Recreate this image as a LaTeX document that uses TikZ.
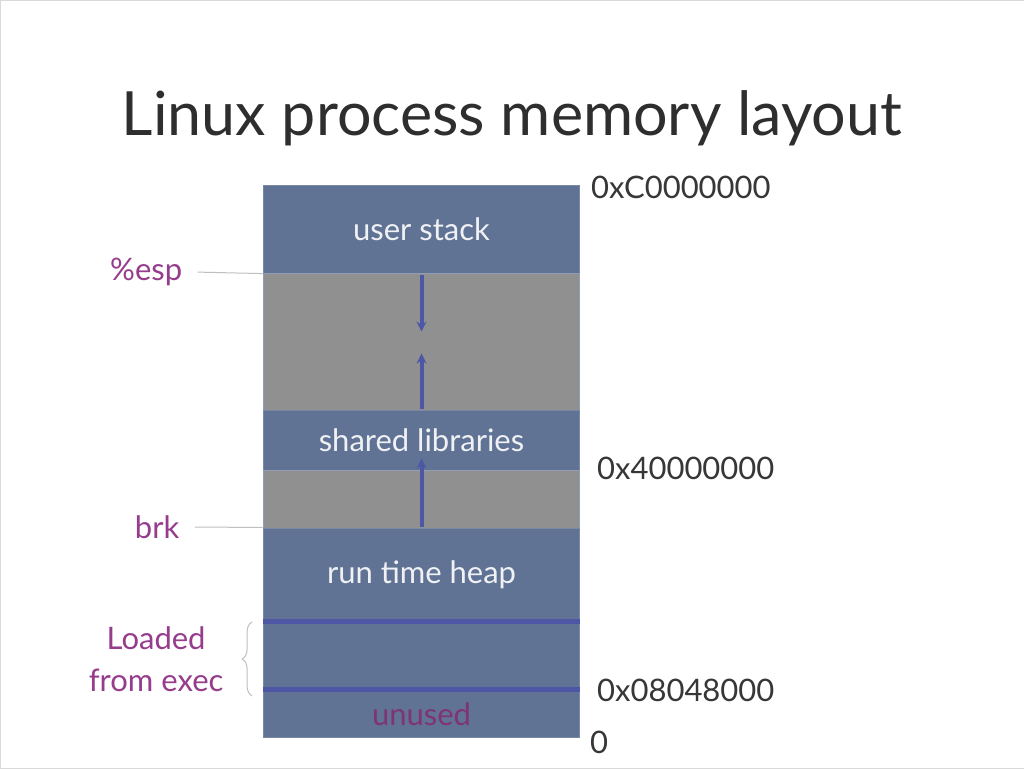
\documentclass[tikz,border=0pt]{standalone}
\usepackage{fontspec}
\setmainfont{Lato}
\usepackage{xcolor}
\definecolor{segblue}{RGB}{96,115,149}
\definecolor{seggray}{RGB}{144,144,144}
\definecolor{segline}{RGB}{78,86,166}
\definecolor{labpurple}{RGB}{150,60,140}
\definecolor{addrgray}{RGB}{55,55,55}
\usepackage{tikz}
\usetikzlibrary{arrows.meta,positioning,calc,decorations.pathreplacing}
\tikzset{
  seg_used/.style={rectangle,
    draw=segblue!85!white,fill=segblue,line width=1pt,
    minimum width=317pt,inner sep=0pt,
    text=white!90!segblue,
    font=\fontsize{31}{36}\selectfont},
  seg_free/.style={rectangle,
    draw=segblue!70!white,fill=seggray,line width=1pt,
    minimum width=317pt,inner sep=0pt},
  sidelab/.style={text=labpurple,align=center,
    font=\fontsize{31}{42}\selectfont},
  addr/.style={anchor=west,text=addrgray,inner sep=0pt,
    font=\fontsize{31}{36}\selectfont},
  divider/.style={draw=segline,line width=5pt},
  grow_arr/.style={-{Stealth[length=10pt,width=10pt]},draw=segline,line width=4pt},
  lead_line/.style={draw=black!25,line width=1pt},
}

\begin{document}
\begin{tikzpicture}[x=1pt,y=-1pt]
  \useasboundingbox[fill=white,draw=black!15] (0,0) rectangle (1024,768);
  % title
  \node (title) [text=black!82,font=\fontsize{61}{66}\selectfont]
    at (512,118) {Linux process memory layout};
  % memory column, top to bottom
  \node (stack)  [seg_used,minimum height=88pt]  at (421.5,229)   {user stack};
  \node (gapa)   [seg_free,minimum height=137pt] at (421.5,341.5) {};
  \node (shlib)  [seg_used,minimum height=60pt]  at (421.5,440)   {shared libraries};
  \node (gapb)   [seg_free,minimum height=58pt]  at (421.5,499)   {};
  \node (heap)   [seg_used,minimum height=94pt]  at (421.5,575)   {run time heap};
  \node (loaded) [seg_used,minimum height=68pt]  at (421.5,656)   {};
  \node (unused) [seg_used,minimum height=48pt,text=labpurple!85!black] at (421.5,714) {unused};
  \draw[divider] (loaded.north west) -- (loaded.north east);
  \draw[divider] (unused.north west) -- (unused.north east);
  % growth arrows
  \coordinate (stack_tip) at ([yshift=-58pt]stack.south);
  \coordinate (lib_tip)   at ([yshift=56pt]shlib.north);
  \coordinate (heap_tip)  at ([yshift=12pt]shlib.south);
  \draw[grow_arr] ([yshift=-1pt]stack.south) -- (stack_tip);
  \draw[grow_arr] ([yshift=1pt]shlib.north) -- (lib_tip);
  \draw[grow_arr] ([yshift=1pt]heap.north) -- (heap_tip);
  % left labels
  \node (esp) [sidelab] at (146,272) {\%esp};
  \node (brk) [sidelab] at (157,527) {brk};
  \node (exec) [sidelab] at (156,659) {Loaded\\from exec};
  \draw[lead_line] ([xshift=12pt]esp.east) -- (stack.south west);
  \draw[lead_line] ([xshift=12pt]brk.east) -- (heap.north west);
  \coordinate (brace_lo) at (252,696);
  \coordinate (brace_hi) at (252,622);
  \draw[lead_line,decorate,decoration={brace,amplitude=10pt}] (brace_lo) -- (brace_hi);
  % addresses
  \node (a_top)  [addr] at (591,187) {0xC0000000};
  \node (a_lib)  [addr] at (597,468) {0x40000000};
  \node (a_text) [addr] at (597,690) {0x08048000};
  \node (a_zero) [addr] at (590,742) {0};
\end{tikzpicture}
\end{document}
